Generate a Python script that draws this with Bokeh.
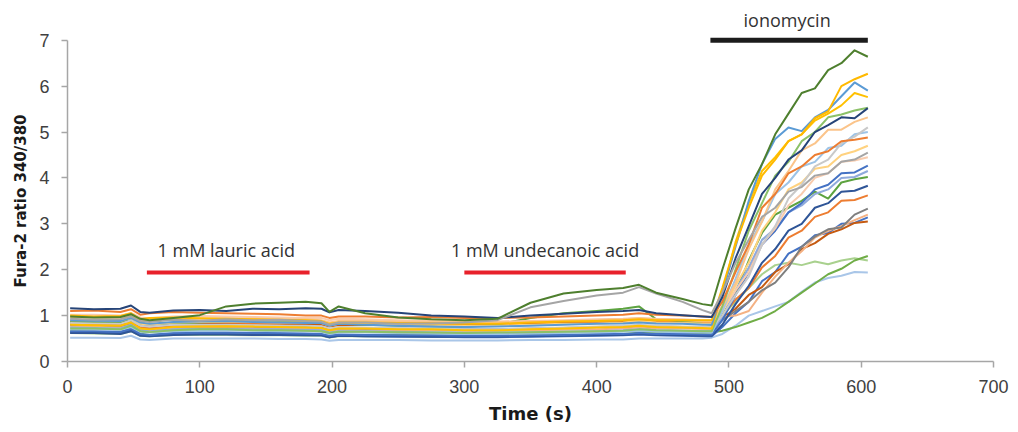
from bokeh.plotting import figure
from bokeh.models import Range1d, FixedTicker, Label, Title
from bokeh.embed import file_html
from bokeh.resources import INLINE

# Sampling times (s) shared by every cell trace
time_s = [2, 20, 40, 48, 55, 62, 80, 100, 120, 140, 160, 180, 192, 198, 205,
          225, 250, 275, 300, 325, 350, 375, 400, 420, 432, 445, 465, 480,
          487, 495, 505, 515, 525, 535, 545, 555, 565, 575, 585, 595, 605]

# Fura-2 340/380 ratio per cell
cell_dgreen = [0.98, 0.96, 0.97, 1.03, 0.93, 0.90, 0.95, 1.01, 1.20, 1.26, 1.28, 1.30, 1.27, 1.08, 1.20,
               1.05, 0.96, 0.92, 0.90, 0.93, 1.28, 1.48, 1.56, 1.60, 1.67, 1.50, 1.36, 1.25,
               1.22, 2.00, 2.90, 3.75, 4.30, 4.95, 5.40, 5.85, 5.95, 6.35, 6.50, 6.78, 6.64]
cell_gray = [0.93, 0.91, 0.92, 0.98, 0.88, 0.86, 0.91, 0.89, 0.92, 0.90, 0.91, 0.88, 0.87, 0.80, 0.85,
             0.85, 0.82, 0.83, 0.85, 0.90, 1.18, 1.32, 1.44, 1.50, 1.62, 1.48, 1.30, 1.12,
             1.05, 1.50, 2.15, 2.65, 3.15, 3.35, 3.70, 3.80, 4.05, 4.10, 4.35, 4.40, 4.55]
cell_dblue = [1.16, 1.14, 1.15, 1.22, 1.08, 1.06, 1.11, 1.12, 1.10, 1.15, 1.14, 1.16, 1.15, 1.07, 1.12,
              1.10, 1.06, 1.00, 0.98, 0.95, 1.00, 1.04, 1.08, 1.10, 1.12, 1.05, 1.01, 0.98,
              0.97, 1.40, 2.25, 2.95, 3.65, 4.00, 4.40, 4.60, 5.00, 5.15, 5.32, 5.30, 5.52]
cell_orange = [1.10, 1.11, 1.08, 1.14, 1.02, 1.05, 1.08, 1.06, 1.05, 1.04, 1.03, 1.00, 1.00, 0.95, 0.98,
               0.98, 0.96, 0.97, 0.95, 0.95, 0.96, 0.98, 1.00, 1.02, 1.05, 1.02, 1.00, 0.98,
               0.97, 1.30, 1.95, 2.55, 3.35, 3.65, 4.10, 4.25, 4.50, 4.58, 4.80, 4.83, 4.88]
cell_gold = [1.00, 0.98, 0.99, 1.05, 0.92, 0.95, 0.96, 0.94, 0.93, 0.92, 0.91, 0.90, 0.88, 0.82, 0.85,
             0.85, 0.84, 0.83, 0.82, 0.82, 0.85, 0.87, 0.88, 0.90, 0.92, 0.90, 0.90, 0.90,
             0.90, 1.60, 2.55, 3.35, 4.05, 4.40, 4.80, 4.95, 5.30, 5.45, 6.00, 6.15, 6.27]
cell_sky = [0.90, 0.89, 0.88, 0.95, 0.85, 0.82, 0.86, 0.87, 0.88, 0.86, 0.85, 0.84, 0.84, 0.78, 0.82,
            0.80, 0.78, 0.76, 0.75, 0.76, 0.78, 0.80, 0.82, 0.83, 0.85, 0.83, 0.82, 0.80,
            0.80, 1.50, 2.50, 3.50, 4.30, 4.85, 5.10, 5.02, 5.32, 5.48, 5.78, 6.08, 5.90]
cell_gold2 = [0.80, 0.79, 0.78, 0.85, 0.72, 0.70, 0.75, 0.76, 0.77, 0.76, 0.75, 0.74, 0.73, 0.68, 0.72,
              0.72, 0.70, 0.70, 0.68, 0.68, 0.70, 0.72, 0.74, 0.75, 0.78, 0.75, 0.74, 0.73,
              0.72, 1.50, 2.60, 3.45, 4.15, 4.45, 4.80, 4.95, 5.25, 5.40, 5.58, 5.85, 5.76]
cell_mgreen = [0.72, 0.72, 0.70, 0.78, 0.66, 0.64, 0.68, 0.70, 0.70, 0.68, 0.68, 0.67, 0.66, 0.62, 0.65,
               0.65, 0.64, 0.63, 0.62, 0.63, 0.64, 0.65, 0.66, 0.67, 0.70, 0.68, 0.67, 0.66,
               0.66, 1.20, 2.00, 2.85, 3.45, 4.05, 4.35, 4.80, 5.00, 5.32, 5.38, 5.47, 5.53]
cell_apricot = [0.96, 0.96, 0.95, 1.00, 0.90, 0.88, 0.92, 0.93, 0.94, 0.93, 0.92, 0.92, 0.90, 0.85, 0.88,
                0.88, 0.87, 0.87, 0.86, 0.86, 0.87, 0.88, 0.90, 0.92, 0.94, 0.92, 0.90, 0.88,
                0.88, 1.20, 1.70, 2.45, 3.05, 3.75, 4.15, 4.60, 4.75, 5.05, 5.05, 5.22, 5.32]
cell_lgray = [0.84, 0.83, 0.82, 0.90, 0.78, 0.76, 0.80, 0.80, 0.80, 0.79, 0.78, 0.78, 0.77, 0.72, 0.75,
              0.74, 0.73, 0.72, 0.70, 0.70, 0.72, 0.74, 0.76, 0.78, 0.80, 0.78, 0.76, 0.75,
              0.75, 1.00, 1.45, 1.85, 2.55, 2.95, 3.55, 3.85, 4.25, 4.40, 4.75, 4.90, 5.10]
cell_lblue = [0.70, 0.70, 0.69, 0.75, 0.65, 0.63, 0.66, 0.67, 0.68, 0.67, 0.66, 0.66, 0.65, 0.60, 0.63,
              0.63, 0.62, 0.61, 0.60, 0.60, 0.61, 0.62, 0.63, 0.65, 0.67, 0.65, 0.64, 0.63,
              0.63, 1.10, 1.80, 2.55, 3.05, 3.65, 3.90, 4.25, 4.35, 4.65, 4.70, 4.95, 5.00]
cell_peach = [1.02, 1.02, 1.00, 1.06, 0.96, 0.94, 0.98, 0.99, 0.98, 0.97, 0.96, 0.95, 0.95, 0.90, 0.93,
              0.92, 0.90, 0.88, 0.87, 0.87, 0.88, 0.90, 0.92, 0.93, 0.95, 0.93, 0.92, 0.90,
              0.90, 1.10, 1.55, 1.95, 2.55, 2.90, 3.40, 3.65, 4.00, 4.10, 4.35, 4.38, 4.45]
cell_blue = [0.66, 0.66, 0.65, 0.72, 0.60, 0.58, 0.62, 0.63, 0.63, 0.62, 0.62, 0.61, 0.60, 0.56, 0.59,
             0.58, 0.57, 0.57, 0.56, 0.56, 0.57, 0.58, 0.60, 0.60, 0.62, 0.60, 0.60, 0.59,
             0.59, 0.90, 1.45, 1.95, 2.55, 2.85, 3.25, 3.45, 3.75, 3.85, 4.10, 4.12, 4.27]
cell_periwinkle = [0.74, 0.73, 0.72, 0.80, 0.68, 0.66, 0.70, 0.71, 0.71, 0.70, 0.70, 0.69, 0.68, 0.63, 0.66,
                   0.66, 0.65, 0.64, 0.63, 0.63, 0.64, 0.65, 0.66, 0.68, 0.70, 0.68, 0.67, 0.66,
                   0.66, 0.95, 1.55, 2.05, 2.65, 2.90, 3.25, 3.40, 3.65, 3.75, 4.00, 4.02, 4.15]
cell_green = [0.86, 0.86, 0.85, 0.90, 0.80, 0.80, 0.82, 0.85, 0.88, 0.88, 0.87, 0.86, 0.85, 0.80, 0.83,
              0.80, 0.78, 0.76, 0.75, 0.80, 0.95, 1.05, 1.10, 1.15, 1.20, 0.92, 0.88, 0.82,
              0.80, 1.00, 1.50, 2.20, 2.80, 3.20, 3.35, 3.50, 3.70, 3.55, 3.90, 3.97, 4.02]
cell_navy = [0.62, 0.62, 0.60, 0.66, 0.56, 0.55, 0.58, 0.59, 0.59, 0.58, 0.58, 0.57, 0.57, 0.53, 0.56,
             0.55, 0.55, 0.54, 0.54, 0.54, 0.55, 0.56, 0.57, 0.58, 0.60, 0.58, 0.57, 0.56,
             0.56, 0.80, 1.25, 1.65, 2.15, 2.45, 2.85, 3.00, 3.35, 3.45, 3.70, 3.72, 3.83]
cell_rust = [0.82, 0.80, 0.80, 0.84, 0.74, 0.72, 0.76, 0.78, 0.80, 0.82, 0.83, 0.84, 0.84, 0.80, 0.83,
             0.84, 0.84, 0.85, 0.86, 0.86, 0.87, 0.88, 0.88, 0.90, 0.92, 0.88, 0.86, 0.85,
             0.85, 1.00, 1.35, 1.60, 2.05, 2.30, 2.70, 2.85, 3.15, 3.25, 3.50, 3.52, 3.62]
cell_dgray = [0.80, 0.80, 0.78, 0.84, 0.74, 0.72, 0.76, 0.77, 0.77, 0.76, 0.75, 0.75, 0.74, 0.70, 0.73,
              0.72, 0.72, 0.71, 0.70, 0.70, 0.72, 0.73, 0.75, 0.76, 0.78, 0.76, 0.75, 0.74,
              0.74, 0.90, 1.10, 1.30, 1.55, 1.72, 2.05, 2.50, 2.72, 2.88, 2.92, 3.20, 3.33]
cell_blue2 = [0.64, 0.63, 0.62, 0.68, 0.58, 0.56, 0.60, 0.60, 0.60, 0.59, 0.58, 0.58, 0.57, 0.53, 0.56,
              0.55, 0.54, 0.54, 0.53, 0.53, 0.54, 0.55, 0.56, 0.57, 0.59, 0.57, 0.56, 0.55,
              0.55, 0.75, 1.05, 1.30, 1.75, 1.95, 2.35, 2.50, 2.75, 2.80, 3.00, 3.02, 3.14]
cell_orange2 = [0.88, 0.87, 0.86, 0.90, 0.80, 0.78, 0.82, 0.83, 0.84, 0.83, 0.82, 0.80, 0.80, 0.76, 0.79,
                0.80, 0.80, 0.80, 0.80, 0.82, 0.83, 0.84, 0.85, 0.86, 0.87, 0.86, 0.85, 0.84,
                0.84, 0.95, 1.15, 1.45, 1.62, 1.95, 2.12, 2.45, 2.58, 2.78, 2.88, 3.02, 3.05]
cell_salmon = [0.77, 0.76, 0.75, 0.80, 0.70, 0.68, 0.72, 0.73, 0.73, 0.72, 0.72, 0.71, 0.70, 0.66, 0.69,
               0.69, 0.68, 0.68, 0.67, 0.67, 0.68, 0.69, 0.70, 0.72, 0.74, 0.72, 0.72, 0.71,
               0.71, 0.98, 1.00, 1.10, 1.50, 1.85, 2.15, 2.40, 2.70, 2.85, 2.95, 3.08, 3.20]
cell_leaf = [0.66, 0.65, 0.64, 0.70, 0.60, 0.58, 0.61, 0.62, 0.62, 0.61, 0.60, 0.60, 0.59, 0.56, 0.58,
             0.58, 0.57, 0.57, 0.56, 0.56, 0.57, 0.58, 0.59, 0.60, 0.62, 0.62, 0.62, 0.62,
             0.63, 0.67, 0.75, 0.85, 0.95, 1.10, 1.30, 1.50, 1.70, 1.90, 2.02, 2.20, 2.30]
cell_mint = [0.62, 0.61, 0.60, 0.66, 0.56, 0.55, 0.58, 0.58, 0.58, 0.57, 0.57, 0.56, 0.56, 0.52, 0.55,
             0.55, 0.55, 0.54, 0.54, 0.55, 0.56, 0.57, 0.58, 0.60, 0.62, 0.64, 0.66, 0.67,
             0.68, 1.00, 1.30, 1.60, 1.90, 2.10, 2.15, 2.10, 2.18, 2.12, 2.20, 2.25, 2.20]
cell_pale = [0.52, 0.52, 0.51, 0.56, 0.48, 0.47, 0.50, 0.50, 0.50, 0.50, 0.49, 0.49, 0.48, 0.45, 0.47,
             0.47, 0.47, 0.46, 0.46, 0.46, 0.47, 0.47, 0.48, 0.48, 0.50, 0.50, 0.50, 0.50,
             0.52, 0.60, 0.78, 1.00, 1.10, 1.20, 1.30, 1.52, 1.72, 1.82, 1.87, 1.95, 1.94]
cell_butter = [0.90, 0.90, 0.88, 0.95, 0.82, 0.80, 0.85, 0.86, 0.87, 0.86, 0.85, 0.85, 0.84, 0.78, 0.82,
               0.82, 0.80, 0.80, 0.78, 0.78, 0.80, 0.82, 0.83, 0.85, 0.88, 0.85, 0.84, 0.83,
               0.83, 1.10, 1.65, 2.15, 2.85, 3.25, 3.75, 3.90, 4.20, 4.25, 4.50, 4.58, 4.70]

traces = [
    (cell_pale, "#A9C6E8"), (cell_mint, "#A9D18E"), (cell_leaf, "#70AD47"),
    (cell_blue2, "#4472C4"), (cell_orange2, "#C55A11"), (cell_salmon, "#F4B183"),
    (cell_dgray, "#7F7F7F"), (cell_rust, "#ED7D31"), (cell_navy, "#2F5597"),
    (cell_green, "#5DA340"), (cell_periwinkle, "#8FAADC"), (cell_blue, "#4472C4"),
    (cell_peach, "#F8CBAD"), (cell_butter, "#FFD27F"), (cell_lblue, "#9DC3E6"),
    (cell_lgray, "#C9C9C9"), (cell_apricot, "#FBC48A"), (cell_mgreen, "#8CC168"),
    (cell_gold2, "#FFC000"), (cell_sky, "#5B9BD5"), (cell_gold, "#FFB900"),
    (cell_orange, "#ED7D31"), (cell_dblue, "#264478"), (cell_gray, "#A5A5A5"),
    (cell_dgreen, "#4E7F2E"),
]

# Drug application windows (s)
lauric_window = [60, 183]
undecanoic_window = [300, 422]
ionomycin_window = [486, 605]

p = figure(width=1018, height=432, output_backend="svg", toolbar_location=None,
           x_range=Range1d(0, 700), y_range=Range1d(0, 7.8),
           min_border_left=67, min_border_right=25, min_border_top=3, min_border_bottom=71)
p.outline_line_color = None
p.xgrid.visible = False
p.ygrid.visible = False
p.background_fill_color = "white"

for vals, col in traces:
    p.line(time_s, vals, line_color=col, line_width=2, line_join="round")

# Stimulus bars
p.line(lauric_window, [1.94, 1.94], line_color="#E8212B", line_width=4, line_cap="butt")
p.line(undecanoic_window, [1.94, 1.94], line_color="#E8212B", line_width=4, line_cap="butt")
p.line(ionomycin_window, [7.0, 7.0], line_color="#1C1C1C", line_width=5, line_cap="butt")

label_style = dict(text_font="Open Sans", text_font_size="18px", text_color="#333333",
                   text_align="center", text_baseline="middle")
p.add_layout(Label(x=120, y=2.42, text="1 mM lauric acid", **label_style))
p.add_layout(Label(x=361, y=2.42, text="1 mM undecanoic acid", **label_style))
p.add_layout(Label(x=544, y=7.43, text="ionomycin", **label_style))

# Axes
for ax in (p.xaxis, p.yaxis):
    ax.axis_line_color = "#A6A6A6"
    ax.axis_line_width = 1.5
    ax.major_tick_line_color = "#A6A6A6"
    ax.major_tick_line_width = 1.5
    ax.major_tick_in = 0
    ax.major_tick_out = 6
    ax.minor_tick_line_color = None
    ax.major_label_text_font = "Liberation Sans"
    ax.major_label_text_font_size = "18px"
    ax.major_label_text_color = "#404040"

p.xaxis.ticker = FixedTicker(ticks=[0, 100, 200, 300, 400, 500, 600, 700])
p.yaxis.ticker = FixedTicker(ticks=[0, 1, 2, 3, 4, 5, 6, 7])
p.yaxis.bounds = (0, 7)
p.xaxis.major_label_standoff = 12
p.yaxis.major_label_standoff = 12

p.xaxis.axis_label = "Time (s)"
p.xaxis.axis_label_text_font = "DejaVu Sans"
p.xaxis.axis_label_text_font_style = "bold"
p.xaxis.axis_label_text_color = "#1A1A1A"
p.xaxis.axis_label_text_font_size = "18px"
p.xaxis.axis_label_standoff = 7

# Vertical title beside the y axis, starting 74 px above the frame bottom
ytitle = Title(text="Fura-2 ratio 340/380", align="left", offset=74,
               text_font="DejaVu Sans", text_font_style="bold", text_font_size="15px",
               text_color="#1A1A1A", standoff=14)
p.add_layout(ytitle, "left")

open("out.html", "w").write(file_html(p, INLINE))
